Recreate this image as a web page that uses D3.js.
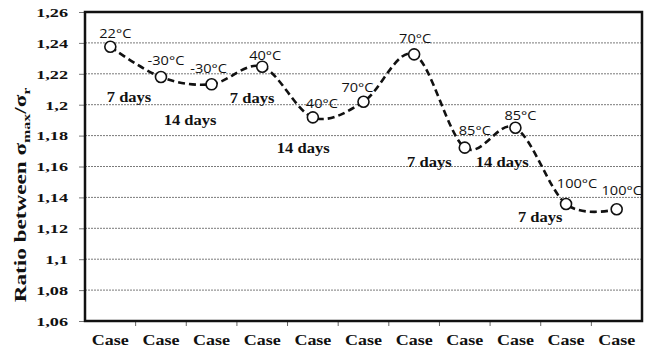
<!DOCTYPE html>
<html>
<head>
<meta charset="utf-8">
<script src="https://cdn.jsdelivr.net/npm/d3@7"></script>
<style>
  body { margin: 0; background: #fff; }
  svg { display: block; }
</style>
</head>
<body>
<div id="chart"></div>
<script>
// data
var cases = ["Case", "Case", "Case", "Case", "Case", "Case",
             "Case", "Case", "Case", "Case", "Case"];
var ratio = [1.2375, 1.2179, 1.2132, 1.2246, 1.1918, 1.2019,
             1.2326, 1.1722, 1.1851, 1.1357, 1.1323];
var tempLabels = ["22°C", "-30°C", "-30°C", "40°C", "40°C", "70°C",
                  "70°C", "85°C", "85°C", "100°C", "100°C"];
var yTicks = [1.06, 1.08, 1.1, 1.12, 1.14, 1.16, 1.18, 1.2, 1.22, 1.24, 1.26];

// "days" notes: text, position in category units, value
var dayText = ["7 days", "14 days", "7 days", "14 days", "7 days", "14 days", "7 days"];
var dayPos = [0.37, 1.575, 2.80, 3.81, 6.30, 7.74, 8.49];
var dayVal = [1.2017, 1.1869, 1.2011, 1.1687, 1.1597, 1.1597, 1.1241];

var svgWidth = 655;
var svgHeight = 354;
var margin = { top: 12, right: 13, bottom: 33, left: 85 };
var width = svgWidth - margin.left - margin.right;
var height = svgHeight - margin.top - margin.bottom;

var serif = "'Liberation Serif', 'Times New Roman', serif";
var sans = "'Open Sans', 'Liberation Sans', sans-serif";

var svg = d3.select("#chart").append("svg")
  .attr("width", svgWidth)
  .attr("height", svgHeight);

var chartGroup = svg.append("g")
  .attr("transform", `translate(${margin.left}, ${margin.top})`);

// band scale over case index (the labels are all the same)
var idx = d3.range(cases.length);
var x = d3.scaleBand().domain(idx).range([0, width]).padding(0);
var xPos = d3.scaleLinear().domain([-0.5, cases.length - 0.5]).range([0, width]);
var y = d3.scaleLinear().domain([1.06, 1.26]).range([height, 0]);
var cx = i => x(i) + x.bandwidth() / 2;

// gridlines
chartGroup.append("g")
  .selectAll("line")
  .data(yTicks.slice(1, -1))
  .enter()
  .append("line")
  .attr("x1", 0)
  .attr("x2", width)
  .attr("y1", d => y(d))
  .attr("y2", d => y(d))
  .attr("stroke", "#7a7a7a")
  .attr("stroke-width", 1)
  .attr("stroke-dasharray", "2,1");

// y axis
var leftAxis = chartGroup.append("g")
  .call(d3.axisLeft(y).tickValues(yTicks).tickSize(6)
    .tickFormat(d => String(+d.toFixed(2)).replace(".", ",")));
leftAxis.select(".domain").remove();
leftAxis.selectAll(".tick line").attr("stroke", "#777");
leftAxis.selectAll("text")
  .attr("x", -17 / 1.35)
  .attr("transform", "scale(1.35,1)")
  .style("font-family", serif)
  .style("font-weight", "bold")
  .style("font-size", "13.5px")
  .attr("fill", "#111");

// x ticks at category boundaries
chartGroup.append("g")
  .selectAll("line")
  .data(idx.slice(1))
  .enter()
  .append("line")
  .attr("x1", d => x(d))
  .attr("x2", d => x(d))
  .attr("y1", height)
  .attr("y2", height + 5)
  .attr("stroke", "#666");

chartGroup.append("g")
  .selectAll("text")
  .data(idx)
  .enter()
  .append("text")
  .attr("transform", d => `translate(${cx(d)}, ${height + 24}) scale(1.2,1)`)
  .attr("text-anchor", "middle")
  .style("font-family", serif)
  .style("font-weight", "bold")
  .style("font-size", "15px")
  .attr("fill", "#111")
  .text(d => cases[d]);

// plot frame
chartGroup.append("rect")
  .attr("x", 0)
  .attr("y", 0)
  .attr("width", width)
  .attr("height", height)
  .attr("fill", "none")
  .attr("stroke", "#111")
  .attr("stroke-width", 2.5);

// smoothed dashed line
var line = d3.line()
  .x((d, i) => cx(i))
  .y(d => y(d))
  .curve(d3.curveCardinal.tension(0));

chartGroup.append("path")
  .datum(ratio)
  .attr("d", line)
  .attr("fill", "none")
  .attr("stroke", "#111")
  .attr("stroke-width", 2.6)
  .attr("stroke-dasharray", "7,4");

chartGroup.selectAll("circle")
  .data(ratio)
  .enter()
  .append("circle")
  .attr("cx", (d, i) => cx(i))
  .attr("cy", d => y(d))
  .attr("r", 5.5)
  .attr("fill", "#fff")
  .attr("stroke", "#111")
  .attr("stroke-width", 1.6);

// temperature labels, offset from each point
var tempDx = [5, 5, -3, 3, 9, -6, 1, 10, 5, 11, 5];
var tempDy = [-9, -12, -11, -7, -9, -10, -11, -13, -8, -16, -14];

chartGroup.append("g")
  .selectAll("text")
  .data(ratio)
  .enter()
  .append("text")
  .attr("transform", (d, i) =>
    `translate(${cx(i) + tempDx[i]}, ${y(d) + tempDy[i]}) scale(1.12,1)`)
  .attr("text-anchor", "middle")
  .style("font-family", sans)
  .style("font-size", "13px")
  .attr("fill", "#111")
  .text((d, i) => tempLabels[i]);

// days notes
chartGroup.append("g")
  .selectAll("text")
  .data(dayText)
  .enter()
  .append("text")
  .attr("transform", (d, i) => `translate(${xPos(dayPos[i])}, ${y(dayVal[i])}) scale(1.14,1)`)
  .attr("text-anchor", "middle")
  .style("font-family", serif)
  .style("font-weight", "bold")
  .style("font-size", "14.5px")
  .attr("fill", "#111")
  .text(d => d);

// y axis title
var yTitle = svg.append("text")
  .attr("transform", "translate(26, 195) rotate(-90) scale(1.45,1)")
  .attr("text-anchor", "middle")
  .style("font-family", serif)
  .style("font-weight", "bold")
  .style("font-size", "16px")
  .attr("fill", "#111");
yTitle.append("tspan").text("Ratio between σ");
yTitle.append("tspan").attr("dy", 4).style("font-size", "11px").text("max");
yTitle.append("tspan").attr("dy", -4).text("/σ");
yTitle.append("tspan").attr("dy", 4).style("font-size", "11px").text("r");
</script>
</body>
</html>
